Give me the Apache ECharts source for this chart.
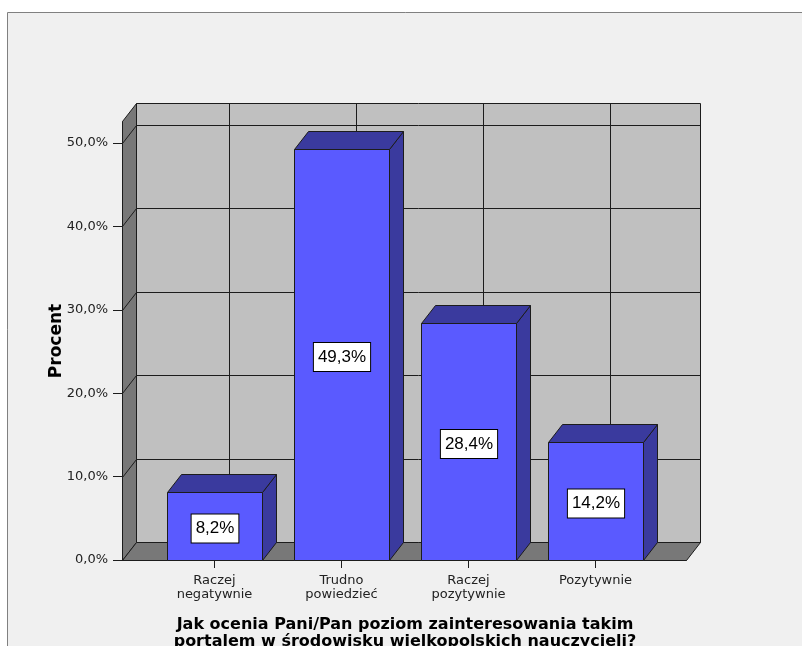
<!DOCTYPE html>
<html>
<head>
<meta charset="utf-8">
<script src="https://cdn.jsdelivr.net/npm/echarts@6/dist/echarts.min.js"></script>
<style>
  html, body { margin: 0; padding: 0; background: #ffffff; }
  #chart { width: 802px; height: 646px; }
</style>
</head>
<body>
<div id="chart"></div>
<script>
// Answer categories and the share of respondents for each (percent)
const categories = ['Raczej\nnegatywnie', 'Trudno\npowiedzieć', 'Raczej\npozytywnie', 'Pozytywnie'];
const percentValues = [8.2, 49.3, 28.4, 14.2];

// Value axis ticks and their printed labels
const yTicks = [0, 10, 20, 30, 40, 50];
const yTickLabels = ['0,0%', '10,0%', '20,0%', '30,0%', '40,0%', '50,0%'];

// Level (in percent) reached by the top edge of the chart walls
const wallTop = 52.6;

const yTitle = 'Procent';
const xTitle = 'Jak ocenia Pani/Pan poziom zainteresowania takim\nportalem w środowisku wielkopolskich nauczycieli?';

// 3D look: depth offset of the back plane and floor margins around the category bands
const DX = 14, DY = -18;
const PAD_L = 29, PAD_R = 27;
const BAR_RATIO = 0.75;

const LINE = '#1c1c1c';
const WALL = '#c0c0c0';
const SIDE = '#787878';
const BAR_FRONT = '#5a5aff';
const BAR_DARK = '#3a3a9e';

const px = v => Math.round(v) + 0.5;

function seg(x1, y1, x2, y2) {
  return { type: 'line', shape: { x1: x1, y1: y1, x2: x2, y2: y2 },
           style: { stroke: LINE, lineWidth: 1 } };
}

// Back wall, left wall, floor, gridlines and the front axis line
function renderWalls(params, api) {
  const n = categories.length;
  const band = api.size([1, 0])[0];
  const x0 = px(api.coord([0, 0])[0] - band / 2 - PAD_L);
  const x1 = px(api.coord([n - 1, 0])[0] + band / 2 + PAD_R);
  const yBase = px(api.coord([0, 0])[1]);
  const yTop = px(api.coord([0, wallTop])[1]);
  const c = [];

  c.push({ type: 'rect',
    shape: { x: x0 + DX, y: yTop + DY, width: x1 - x0, height: yBase - yTop },
    style: { fill: WALL, stroke: LINE, lineWidth: 1 } });
  c.push({ type: 'polygon',
    shape: { points: [[x0, yBase], [x0, yTop], [x0 + DX, yTop + DY], [x0 + DX, yBase + DY]] },
    style: { fill: SIDE, stroke: LINE, lineWidth: 1 } });
  c.push({ type: 'polygon',
    shape: { points: [[x0, yBase], [x0 + DX, yBase + DY], [x1 + DX, yBase + DY], [x1, yBase]] },
    style: { fill: SIDE, stroke: LINE, lineWidth: 1 } });

  yTicks.forEach(function (t) {
    if (t === 0) return;
    const y = px(api.coord([0, t])[1]);
    c.push(seg(x0, y, x0 + DX, y + DY));
    c.push(seg(x0 + DX, y + DY, x1 + DX, y + DY));
  });
  for (let i = 0; i < n; i++) {
    const cx = px(api.coord([i, 0])[0]) + DX;
    c.push(seg(cx, yTop + DY, cx, yBase + DY));
  }
  c.push(seg(x0, yBase, x0, yTop));
  c.push(seg(x0 - 9, yBase, x1, yBase));

  c.push({ type: 'text', x: x0 - 66, y: (yBase + yTop) / 2, rotation: Math.PI / 2,
    style: { text: yTitle, align: 'center', verticalAlign: 'middle',
             font: 'bold 17px "DejaVu Sans"', fill: '#000' } });

  return { type: 'group', children: c };
}

// One box-shaped bar with its value label
function renderBar(params, api) {
  const i = api.value(0);
  const v = api.value(1);
  const band = api.size([1, 0])[0];
  const w = band * BAR_RATIO;
  const topPt = api.coord([i, v]);
  const basePt = api.coord([i, 0]);
  const l = px(topPt[0] - w / 2), r = px(topPt[0] + w / 2);
  const t = px(topPt[1]), b = px(basePt[1]);
  const label = v.toFixed(1).replace('.', ',') + '%';
  return { type: 'group', children: [
    { type: 'polygon',
      shape: { points: [[r, t], [r + DX, t + DY], [r + DX, b + DY], [r, b]] },
      style: { fill: BAR_DARK, stroke: LINE, lineWidth: 1 } },
    { type: 'polygon',
      shape: { points: [[l, t], [l + DX, t + DY], [r + DX, t + DY], [r, t]] },
      style: { fill: BAR_DARK, stroke: LINE, lineWidth: 1 } },
    { type: 'rect', shape: { x: l, y: t, width: r - l, height: b - t },
      style: { fill: BAR_FRONT, stroke: LINE, lineWidth: 1 } },
    { type: 'text', x: (l + r) / 2, y: (t + b) / 2 + 2,
      style: { text: label, align: 'center', verticalAlign: 'middle',
               font: '17px "Liberation Sans"', fill: '#000', lineHeight: 20,
               backgroundColor: '#ffffff', borderColor: '#000', borderWidth: 1,
               padding: [4, 4, 4, 4] } }
  ] };
}

const chart = echarts.init(document.getElementById('chart'), null, { renderer: 'canvas' });

chart.setOption({
  backgroundColor: '#ffffff',
  animation: false,
  graphic: [{
    type: 'rect', silent: true, z: -10,
    shape: { x: 7.5, y: 12.5, width: 1000, height: 1000 },
    style: { fill: '#f0f0f0', stroke: '#808080', lineWidth: 1 }
  }],
  grid: { left: 151, right: 143, top: 143, bottom: 86, outerBoundsMode: 'none' },
  xAxis: {
    type: 'category',
    data: categories,
    axisLine: { show: false },
    axisTick: { show: true, alignWithLabel: true, length: 8, lineStyle: { color: LINE } },
    axisLabel: { interval: 0, fontFamily: 'DejaVu Sans', fontSize: 13, lineHeight: 14,
                 color: '#222', margin: 14 },
    splitLine: { show: false },
    name: xTitle,
    nameLocation: 'middle',
    nameGap: 56,
    nameTextStyle: { fontFamily: 'DejaVu Sans', fontWeight: 'bold', fontSize: 16,
                     lineHeight: 17, color: '#000' }
  },
  yAxis: {
    type: 'value',
    min: yTicks[0],
    max: yTicks[yTicks.length - 1],
    interval: 10,
    offset: PAD_L,
    axisLine: { show: false },
    axisTick: { show: true, length: 9, lineStyle: { color: LINE } },
    axisLabel: {
      formatter: function (val) {
        const k = yTicks.indexOf(val);
        return k >= 0 ? yTickLabels[k] : '';
      },
      fontFamily: 'DejaVu Sans', fontSize: 13, color: '#222', margin: 14
    },
    splitLine: { show: false }
  },
  series: [
    { type: 'custom', name: 'walls', renderItem: renderWalls, data: [[0, 0]], silent: true, clip: false },
    { type: 'custom', name: 'Procent', renderItem: renderBar, clip: false,
      data: percentValues.map(function (v, i) { return [i, v]; }) }
  ]
});
</script>
</body>
</html>
